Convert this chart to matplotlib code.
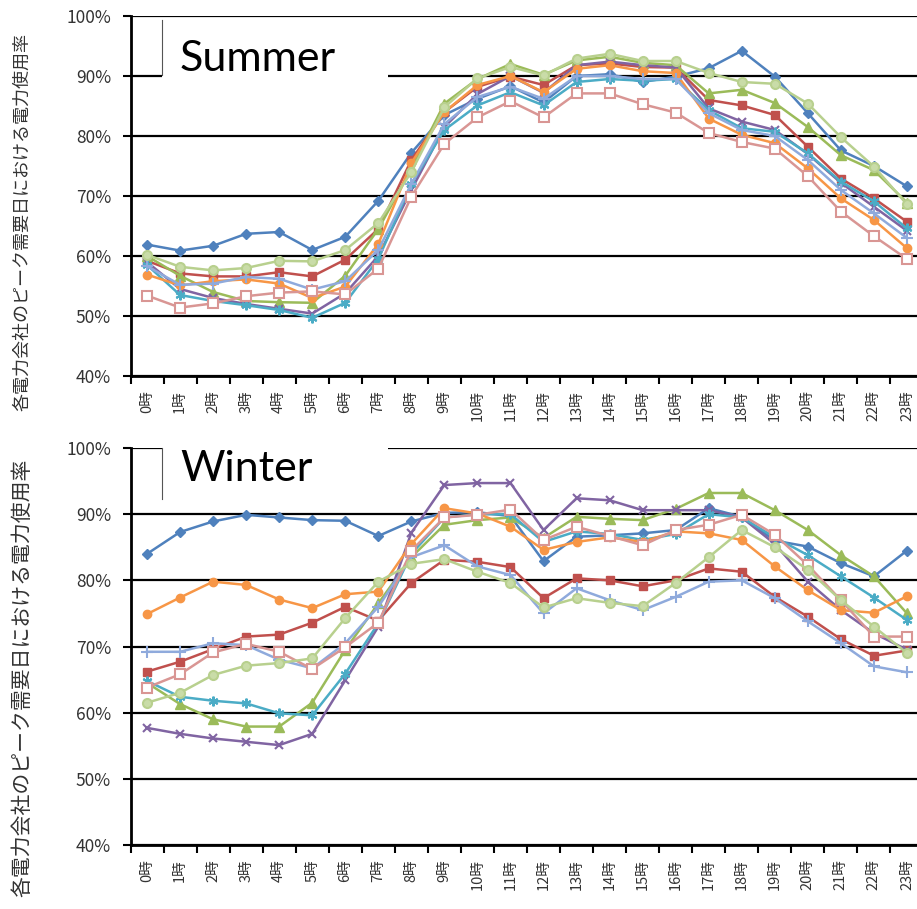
import numpy as np
import matplotlib
matplotlib.use("Agg")
import matplotlib.pyplot as plt
from matplotlib.patches import Rectangle

hours = [f"{h}時" for h in range(24)]
ylabel_text = "各電力会社のピーク需要日における電力使用率"
yticks = [0.4, 0.5, 0.6, 0.7, 0.8, 0.9, 1.0]
ytick_labels = ["40%", "50%", "60%", "70%", "80%", "90%", "100%"]

# Summer series (%)
s_blue = [61.9, 60.9, 61.7, 63.7, 64.0, 61.0, 63.2, 69.2, 77.2, 83.5, 86.2, 88.3, 85.6, 90.0, 90.3, 89.0, 89.9, 91.3, 94.2, 89.9, 83.8, 77.6, 75.0, 71.6]
s_red = [59.2, 57.1, 56.6, 56.6, 57.3, 56.6, 59.4, 64.5, 76.0, 84.0, 88.2, 89.9, 88.5, 91.8, 92.1, 91.5, 91.4, 86.0, 85.1, 83.5, 78.2, 72.9, 69.6, 65.7]
s_green = [60.0, 56.7, 54.0, 52.5, 52.3, 52.2, 56.7, 64.5, 74.5, 85.4, 89.5, 92.0, 90.2, 92.6, 93.2, 92.2, 91.8, 87.1, 87.7, 85.5, 81.5, 76.8, 74.3, 68.9]
s_purple = [59.0, 54.5, 53.0, 52.0, 51.2, 50.4, 53.8, 60.0, 71.0, 81.5, 87.0, 90.0, 87.2, 91.8, 92.4, 91.8, 91.4, 84.6, 82.4, 81.0, 77.0, 72.2, 68.2, 64.2]
s_teal = [58.5, 53.5, 52.5, 51.8, 51.0, 49.7, 52.2, 59.5, 72.0, 81.0, 85.1, 87.3, 85.1, 89.0, 89.5, 89.2, 89.5, 84.3, 81.3, 80.7, 77.1, 72.4, 69.1, 64.6]
s_orange = [56.9, 55.1, 55.8, 56.1, 55.4, 53.0, 54.9, 62.0, 75.5, 84.0, 88.5, 90.0, 87.3, 91.2, 91.8, 90.8, 90.5, 82.9, 80.2, 78.8, 74.6, 69.6, 66.0, 61.3]
s_ltblue = [58.3, 55.2, 55.4, 56.5, 56.2, 54.4, 55.8, 61.0, 72.0, 82.0, 86.5, 88.2, 86.2, 90.0, 90.0, 89.5, 89.5, 83.8, 81.0, 80.0, 76.0, 71.0, 67.1, 63.0]
s_pink = [53.4, 51.4, 52.1, 53.3, 53.9, 54.1, 53.6, 57.9, 69.9, 78.7, 83.1, 85.8, 83.1, 87.1, 87.1, 85.3, 83.9, 80.5, 79.0, 77.9, 73.3, 67.4, 63.3, 59.5]
s_ltgreen = [60.2, 58.2, 57.6, 58.0, 59.2, 59.1, 61.0, 65.5, 74.0, 84.8, 89.6, 91.5, 90.1, 92.9, 93.7, 92.5, 92.5, 90.5, 89.0, 88.7, 85.4, 79.8, 74.9, 68.6]

# Winter series (%)
w_blue = [84.0, 87.3, 88.9, 89.9, 89.5, 89.1, 89.0, 86.7, 88.9, 90.2, 90.3, 89.7, 82.9, 86.6, 86.8, 87.1, 87.6, 90.9, 89.6, 86.0, 85.1, 82.6, 80.6, 84.5]
w_red = [66.2, 67.7, 69.6, 71.5, 71.8, 73.6, 76.0, 73.9, 79.6, 83.1, 82.8, 82.0, 77.3, 80.3, 80.0, 79.1, 80.0, 81.8, 81.3, 77.5, 74.5, 71.1, 68.6, 69.4]
w_green = [64.5, 61.3, 59.0, 57.9, 57.9, 61.5, 69.5, 76.5, 83.5, 88.4, 89.1, 89.5, 86.4, 89.6, 89.3, 89.1, 90.8, 93.2, 93.2, 90.6, 87.6, 83.8, 80.6, 75.0]
w_purple = [57.7, 56.8, 56.1, 55.6, 55.1, 56.8, 64.9, 73.0, 87.2, 94.4, 94.7, 94.7, 87.6, 92.4, 92.1, 90.6, 90.6, 90.6, 89.5, 85.5, 79.8, 75.5, 72.0, 69.5]
w_teal = [64.8, 62.4, 61.8, 61.4, 59.9, 59.6, 65.9, 73.5, 84.0, 89.5, 90.0, 90.0, 85.8, 87.4, 87.0, 86.1, 87.0, 90.0, 89.5, 86.5, 83.8, 80.6, 77.4, 74.0]
w_orange = [74.9, 77.4, 79.8, 79.3, 77.1, 75.8, 77.9, 78.3, 85.5, 90.9, 90.1, 88.1, 84.6, 85.8, 86.5, 85.8, 87.4, 87.1, 86.1, 82.1, 78.5, 75.5, 75.1, 77.6]
w_ltblue = [69.2, 69.2, 70.5, 70.2, 68.0, 66.7, 70.5, 76.0, 83.5, 85.3, 82.1, 80.8, 75.0, 78.8, 77.0, 75.5, 77.5, 79.8, 80.0, 77.3, 73.8, 70.5, 67.0, 66.1]
w_pink = [63.8, 65.8, 69.1, 70.4, 69.2, 66.6, 69.9, 73.6, 84.5, 89.5, 89.9, 90.7, 86.1, 88.1, 86.7, 85.3, 87.6, 88.4, 89.9, 86.9, 82.3, 77.0, 71.5, 71.5]
w_ltgreen = [61.5, 63.0, 65.7, 67.1, 67.5, 68.2, 74.3, 79.8, 82.5, 83.2, 81.3, 79.6, 75.9, 77.3, 76.6, 76.1, 79.6, 83.5, 87.6, 85.0, 81.6, 77.0, 73.0, 69.0]

summer = [s_blue, s_red, s_green, s_purple, s_teal, s_orange, s_ltblue, s_pink, s_ltgreen]
winter = [w_blue, w_red, w_green, w_purple, w_teal, w_orange, w_ltblue, w_pink, w_ltgreen]

styles = [
    dict(color="#4F81BD", marker="D", mfc="#4F81BD", ms=5),
    dict(color="#C0504D", marker="s", mfc="#C0504D", ms=6),
    dict(color="#9BBB59", marker="^", mfc="#9BBB59", ms=6.5),
    dict(color="#8064A2", marker="x", mfc="#8064A2", ms=6, mew=1.5),
    dict(color="#4BACC6", marker=(6, 2, 0), mfc="#4BACC6", ms=7, mew=1.5),
    dict(color="#F79646", marker="o", mfc="#F79646", ms=6),
    dict(color="#8FAADC", marker="+", mfc="#8FAADC", ms=8, mew=1.5),
    dict(color="#D99694", marker="s", mfc="white", ms=7.5, mew=1.5),
    dict(color="#B8D08E", marker="o", mfc="#C9DCA8", ms=6.5, mew=1.5),
]

plt.rcParams["font.family"] = ["Noto Sans CJK JP", "DejaVu Sans"]

W, H = 917, 909
fig = plt.figure(figsize=(W / 100, H / 100), dpi=100)

def px_axes(left, top, right, bottom):
    return fig.add_axes([left / W, 1 - bottom / H, (right - left) / W, (bottom - top) / H])

ax_s = px_axes(130.5, 16, 923.5, 376)
ax_w = px_axes(130.5, 448, 923.5, 845)

x = np.arange(24)
panels = [(ax_s, summer, "Summer", 18, 80, 59), (ax_w, winter, "Winter", 446, 504, 469)]
for ax, data, title, boxtop, boxbot, ty in panels:
    ax.set_xlim(-0.5, 23.5)
    ax.set_ylim(0.4, 1.0)
    ax.set_yticks(yticks)
    ax.set_yticklabels(ytick_labels, fontsize=12.5, color="#333333")
    ax.yaxis.grid(True, color="black", linewidth=1.6, zorder=0)
    ax.set_axisbelow(True)
    for sp in ["top", "right"]:
        ax.spines[sp].set_visible(False)
    ax.spines["left"].set_linewidth(2)
    ax.spines["bottom"].set_linewidth(2)
    ax.tick_params(axis="y", direction="out", length=6, width=1.5, pad=8)
    ax.set_xticks(x)
    ax.set_xticklabels(hours, rotation=90, fontsize=10.5, color="#333333", va="top", ha="center")
    ax.tick_params(axis="x", which="major", length=0, pad=10)
    ax.set_xticks(np.arange(-0.5, 24, 1), minor=True)
    ax.tick_params(axis="x", which="minor", direction="out", length=6, width=1.5)
    for vals, st in zip(data, styles):
        ax.plot(x, np.array(vals) / 100.0, linewidth=1.8, color=st["color"], marker=st["marker"],
                markerfacecolor=st["mfc"], markeredgecolor=st["color"], markersize=st["ms"],
                markeredgewidth=st.get("mew", 1.0), zorder=3, clip_on=False)
    # title box (in pixel coordinates)
    fig.patches.append(Rectangle((162 / W, 1 - boxbot / H), (388 - 162) / W, (boxbot - boxtop) / H,
                                 transform=fig.transFigure, facecolor="white", edgecolor="none", zorder=5))
    fig.add_artist(plt.Line2D([162 / W, 162 / W], [1 - (boxtop + 2) / H, 1 - (boxbot - 5) / H],
                              transform=fig.transFigure, color="#555555", linewidth=0.8, zorder=6))
    fig.text(180 / W, 1 - ty / H, title, fontsize=31, family="Lato",
             color="black", va="center", ha="left", zorder=7)

fig.text(22 / W, 1 - 222 / H, ylabel_text, rotation=90, fontsize=13, color="#333333", ha="center", va="center")
fig.text(22 / W, 1 - 678 / H, ylabel_text, rotation=90, fontsize=15, color="#333333", ha="center", va="center")

fig.savefig("out.png", dpi=100)
